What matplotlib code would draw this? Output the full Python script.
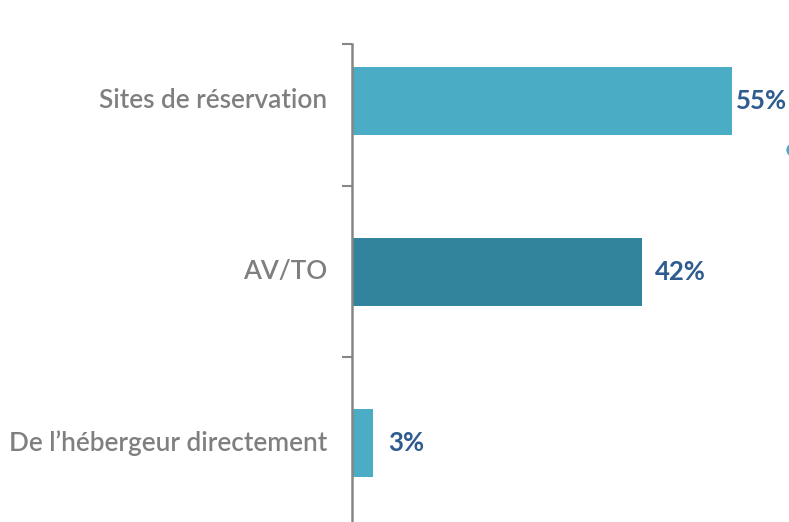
import matplotlib.pyplot as plt
from matplotlib.patches import Ellipse

categories = ['Sites de réservation', 'AV/TO', 'De l\u2019hébergeur directement']
values = [55, 42, 3]
colors = ['#4BACC6', '#31849B', '#4BACC6']
label_pads = [3, 9, 11]

fig = plt.figure(figsize=(7.89, 5.22), dpi=100)
ax = fig.add_axes([352 / 789, -6.5 / 522, 435 / 789, 484.5 / 522])

pos = list(range(len(categories)))
ax.barh(pos, values, height=0.4, color=colors)
ax.set_ylim(2.5, -0.333)
ax.set_xlim(0, 63)

for p, v, pad in zip(pos, values, label_pads):
    ax.annotate(f'{v}%', (v, p), xytext=(pad, 0), textcoords='offset points',
                va='center', ha='left', fontsize=18.5, fontweight='bold',
                color='#2E5C8E', family='Lato')

for p, c in zip(pos, categories):
    ax.text(-3.6, p, c, ha='right', va='center', fontsize=18.8,
            color='#7F7F7F', family='Lato', fontweight='semibold')

ax.set_yticks([-0.333, 0.5, 1.5, 2.5])
ax.set_yticklabels([])
ax.tick_params(axis='y', length=7, width=1.5, color='#868686', direction='out')
ax.set_xticks([])
for s in ['top', 'right', 'bottom']:
    ax.spines[s].set_visible(False)
ax.spines['left'].set_color('#868686')
ax.spines['left'].set_linewidth(1.8)

fig.patches.append(Ellipse((793 / 789, 1 - 150 / 522), 12 / 789, 12 / 522,
                           transform=fig.transFigure, color='#4BACC6'))

fig.savefig('out.png', dpi=100)
